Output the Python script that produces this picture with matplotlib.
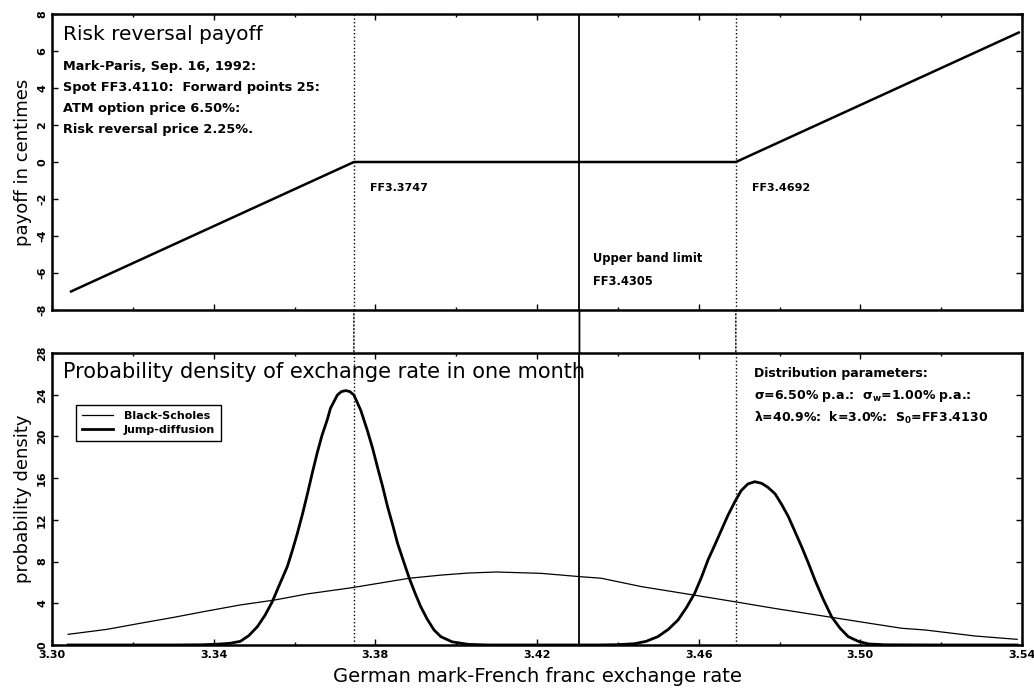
import matplotlib
matplotlib.use("Agg")
import matplotlib.pyplot as plt
from matplotlib.patches import ConnectionPatch
from matplotlib.ticker import MultipleLocator

# strikes and band limit
put_strike = 3.3747
call_strike = 3.4692
band_limit = 3.4305

# risk reversal payoff (centimes)
payoff_x = [3.3047, 3.3747, 3.4692, 3.5392]
payoff_y = [-7.0, 0.0, 0.0, 7.0]

# Black-Scholes density
bs_x = [3.304, 3.3136, 3.3218, 3.3301, 3.3384, 3.3466, 3.3549, 3.3632, 3.3743,
        3.3884, 3.3962, 3.403, 3.410, 3.421, 3.4307, 3.4359, 3.4458, 3.4586,
        3.4689, 3.4789, 3.4929, 3.5036, 3.5103, 3.516, 3.5284, 3.5388]
bs_y = [1.02, 1.5, 2.08, 2.65, 3.26, 3.84, 4.3, 4.9, 5.5,
        6.4, 6.7, 6.9, 7.0, 6.87, 6.55, 6.4, 5.6, 4.8,
        4.15, 3.5, 2.65, 2.0, 1.6, 1.44, 0.86, 0.54]

# jump-diffusion density
jd_x = [3.304, 3.330, 3.337, 3.341, 3.3440, 3.3466, 3.3487, 3.3508, 3.3527,
        3.3545, 3.3563, 3.3582, 3.3595, 3.3607, 3.3620, 3.3632, 3.3644, 3.3656,
        3.3668, 3.3681, 3.3689, 3.3706, 3.3716, 3.3727, 3.3737, 3.3747, 3.3764,
        3.3780, 3.3793, 3.3805, 3.3818, 3.3830, 3.3843, 3.3855, 3.3870, 3.3884,
        3.3898, 3.3912, 3.3928, 3.3945, 3.3962, 3.3990, 3.4030, 3.4080,
        3.4200, 3.4350, 3.4400, 3.4441, 3.4470, 3.4499, 3.4525, 3.4549, 3.4570,
        3.4590, 3.4607, 3.4623, 3.4640, 3.4656, 3.4672, 3.4689, 3.4705, 3.4722,
        3.4739, 3.4756, 3.4772, 3.4789, 3.4805, 3.4822, 3.4838, 3.4855, 3.4872,
        3.4888, 3.4908, 3.4929, 3.4950, 3.4970, 3.4995, 3.5020, 3.5060,
        3.5200, 3.5388]
jd_y = [0.0, 0.0, 0.02, 0.08, 0.16, 0.35, 0.9, 1.75, 2.85,
        4.15, 5.8, 7.5, 9.1, 10.7, 12.6, 14.5, 16.5, 18.4,
        20.1, 21.6, 22.7, 23.97, 24.3, 24.4, 24.3, 23.97, 22.5,
        20.6, 18.9, 17.1, 15.2, 13.3, 11.5, 9.75, 8.0, 6.4,
        5.0, 3.7, 2.5, 1.45, 0.8, 0.3, 0.06, 0.0,
        0.0, 0.0, 0.03, 0.12, 0.35, 0.8, 1.5, 2.4, 3.6,
        4.95, 6.5, 8.15, 9.6, 11.0, 12.4, 13.7, 14.8, 15.45,
        15.66, 15.5, 15.1, 14.5, 13.5, 12.3, 10.9, 9.4, 7.8,
        6.2, 4.4, 2.7, 1.6, 0.8, 0.35, 0.1, 0.02,
        0.0, 0.0]

x_ticks = [3.30, 3.34, 3.38, 3.42, 3.46, 3.50, 3.54]

info_lines = ["Mark-Paris, Sep. 16, 1992:",
              "Spot FF3.4110:  Forward points 25:",
              "ATM option price 6.50%:",
              "Risk reversal price 2.25%."]
param_lines = ["Distribution parameters:",
               r"$\sigma$=6.50% p.a.:  $\sigma_w$=1.00% p.a.:",
               r"$\lambda$=40.9%:  k=3.0%:  S$_0$=FF3.4130"]

plt.rcParams['font.family'] = ['DejaVu Sans']
plt.rcParams['mathtext.default'] = 'regular'
plt.rcParams['axes.unicode_minus'] = False

fig = plt.figure(figsize=(10.34, 6.91), dpi=100)
ax1 = fig.add_axes([0.0503, 0.5514, 0.9381, 0.4283])
ax2 = fig.add_axes([0.0503, 0.0666, 0.9381, 0.4225])

for ax in (ax1, ax2):
    ax.set_xlim(3.30, 3.54)
    ax.xaxis.set_major_locator(MultipleLocator(0.04))
    ax.xaxis.set_minor_locator(MultipleLocator(0.02))
    ax.tick_params(which='both', direction='in', top=True, right=True)
    ax.tick_params(which='major', length=4, width=1)
    ax.tick_params(which='minor', length=2.5, width=1)
    for sp in ax.spines.values():
        sp.set_linewidth(1.8)

# top panel
ax1.set_ylim(-8, 8)
ax1.yaxis.set_major_locator(MultipleLocator(2))
ax1.set_xticks(x_ticks)
ax1.set_xticklabels([])
ax1.plot(payoff_x, payoff_y, color='black', lw=1.8)
ax1.axvline(put_strike, color='black', lw=1, ls=':')
ax1.axvline(call_strike, color='black', lw=1, ls=':')
ax1.axvline(band_limit, color='black', lw=1.3)
ax1.set_ylabel("payoff in centimes", fontsize=13, labelpad=4)
ax1.text(3.3028, 6.9, "Risk reversal payoff", fontsize=14.5, va='center')
for i, line in enumerate(info_lines):
    ax1.text(3.3028, 5.15 - i * 1.13, line, fontsize=9.3, fontweight='bold', va='center')
ax1.text(put_strike + 0.004, -1.4, "FF3.3747", fontsize=8, fontweight='bold', va='center')
ax1.text(call_strike + 0.004, -1.4, "FF3.4692", fontsize=8, fontweight='bold', va='center')
ax1.text(band_limit + 0.0033, -5.2, "Upper band limit", fontsize=8.3, fontweight='bold', va='center')
ax1.text(band_limit + 0.0033, -6.45, "FF3.4305", fontsize=8.3, fontweight='bold', va='center')

# bottom panel
ax2.set_ylim(0, 28)
ax2.yaxis.set_major_locator(MultipleLocator(4))
ax2.plot(bs_x, bs_y, color='black', lw=0.9, label="Black-Scholes")
ax2.plot(jd_x, jd_y, color='black', lw=2.0, label="Jump-diffusion")
ax2.axvline(put_strike, color='black', lw=1, ls=':')
ax2.axvline(call_strike, color='black', lw=1, ls=':')
ax2.axvline(band_limit, color='black', lw=1.3)
ax2.set_xticks(x_ticks)
ax2.set_xticklabels([f"{v:.2f}" for v in x_ticks])
ax2.set_ylabel("probability density", fontsize=13, labelpad=4)
ax2.set_xlabel("German mark-French franc exchange rate", fontsize=14, labelpad=5)
ax2.text(3.3028, 26.2, "Probability density of exchange rate in one month", fontsize=15, va='center')
for i, line in enumerate(param_lines):
    ax2.text(3.4736, 26.0 - i * 2.1, line, fontsize=9, fontweight='bold', va='center')

leg = ax2.legend(loc='upper left', bbox_to_anchor=(0.0247, 0.822), borderaxespad=0,
                 fancybox=False, framealpha=1, edgecolor='black',
                 prop={'size': 8, 'weight': 'bold'}, handlelength=2.8,
                 handletextpad=1.0, borderpad=0.5, labelspacing=0.4)
leg.get_frame().set_linewidth(1.0)

for ax in (ax1, ax2):
    for lab in ax.get_yticklabels():
        lab.set_rotation(90)
        lab.set_va('center')
        lab.set_fontweight('bold')
        lab.set_fontsize(8)
    for lab in ax.get_xticklabels():
        lab.set_fontweight('bold')
        lab.set_fontsize(8)

# vertical lines continue across the gap between panels
for xv, ls, lw in [(put_strike, ':', 1), (call_strike, ':', 1), (band_limit, '-', 1.3)]:
    con = ConnectionPatch(xyA=(xv, -8), coordsA=ax1.transData,
                          xyB=(xv, 28), coordsB=ax2.transData,
                          color='black', lw=lw, ls=ls)
    fig.add_artist(con)

fig.savefig("out.png", dpi=100)
